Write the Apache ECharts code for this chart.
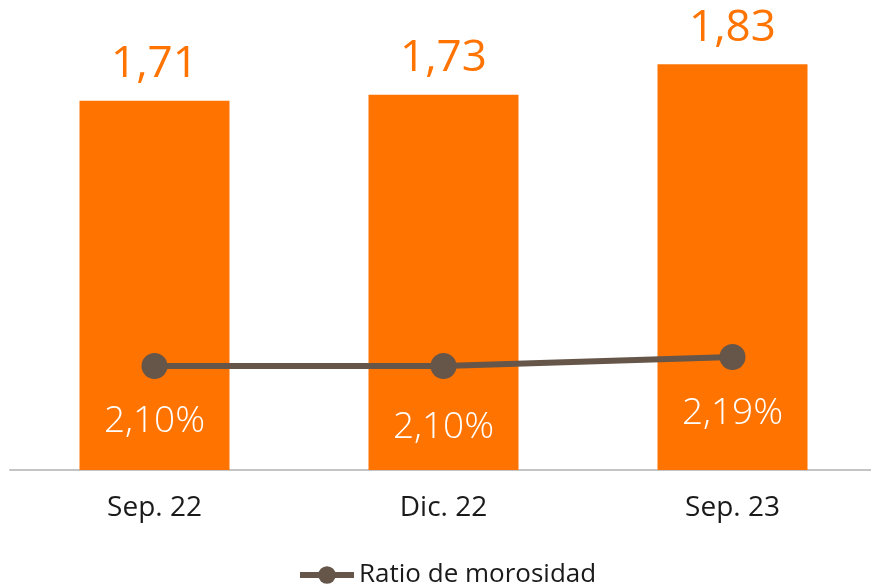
<!DOCTYPE html>
<html>
<head>
<meta charset="utf-8">
<script src="https://cdn.jsdelivr.net/npm/echarts@6/dist/echarts.min.js"></script>
<style>
html, body { margin: 0; padding: 0; background: #fff; }
#chart1 { width: 871px; height: 587px; }
</style>
</head>
<body>
<div id="chart1"></div>
<script>
var categories = ['Sep. 22', 'Dic. 22', 'Sep. 23'];
var barValues = [1.71, 1.73, 1.83];
var ratioValues = [2.10, 2.10, 2.19];
var ratioName = 'Ratio de morosidad';

var fmt = function (v, d) { return v.toFixed(d).replace('.', ','); };
var labelGaps = [24, 30, 25];

var myChart = echarts.init(document.getElementById('chart1'));

option = {
    textStyle: { fontFamily: 'Open Sans' },
    animation: false,
    legend: {
        data: [ratioName],
        bottom: -6,
        left: 292,
        itemWidth: 54,
        itemHeight: 22,
        itemGap: 6,
        lineStyle: { width: 6 },
        textStyle: { fontSize: 26, color: '#1a1a1a', fontFamily: 'Open Sans' }
    },
    grid: { left: 10, width: 867, top: 20, height: 450, outerBoundsMode: 'none' },
    xAxis: {
        type: 'category',
        data: categories,
        axisLine: { lineStyle: { color: '#c4c4c4', width: 2 } },
        axisTick: { show: false },
        axisLabel: { fontSize: 28, color: '#1a1a1a', margin: 24 }
    },
    yAxis: [
        { type: 'value', min: 0.5, max: 1.975, show: false },
        { type: 'value', min: 1.06, max: 5.56, show: false }
    ],
    series: [
        {
            type: 'bar',
            yAxisIndex: 0,
            barWidth: 150,
            itemStyle: { color: '#ff7300' },
            label: {
                show: true,
                position: 'top',
                distance: 14,
                fontSize: 44,
                color: '#ff7300',
                formatter: function (p) { return fmt(p.value, 2); }
            },
            data: barValues
        },
        {
            name: ratioName,
            type: 'line',
            yAxisIndex: 1,
            symbol: 'circle',
            symbolSize: 26,
            lineStyle: { color: '#655649', width: 6 },
            itemStyle: { color: '#655649' },
            data: ratioValues.map(function (v, i) {
                return {
                    value: v,
                    label: {
                        show: true,
                        position: 'bottom',
                        distance: labelGaps[i],
                        fontSize: 37,
                        fontWeight: 300,
                        color: '#ffffff',
                        formatter: function (p) { return fmt(p.value, 2) + '%'; }
                    }
                };
            })
        }
    ]
};
myChart.setOption(option);
window.onresize = myChart.resize;
</script>
</body>
</html>
